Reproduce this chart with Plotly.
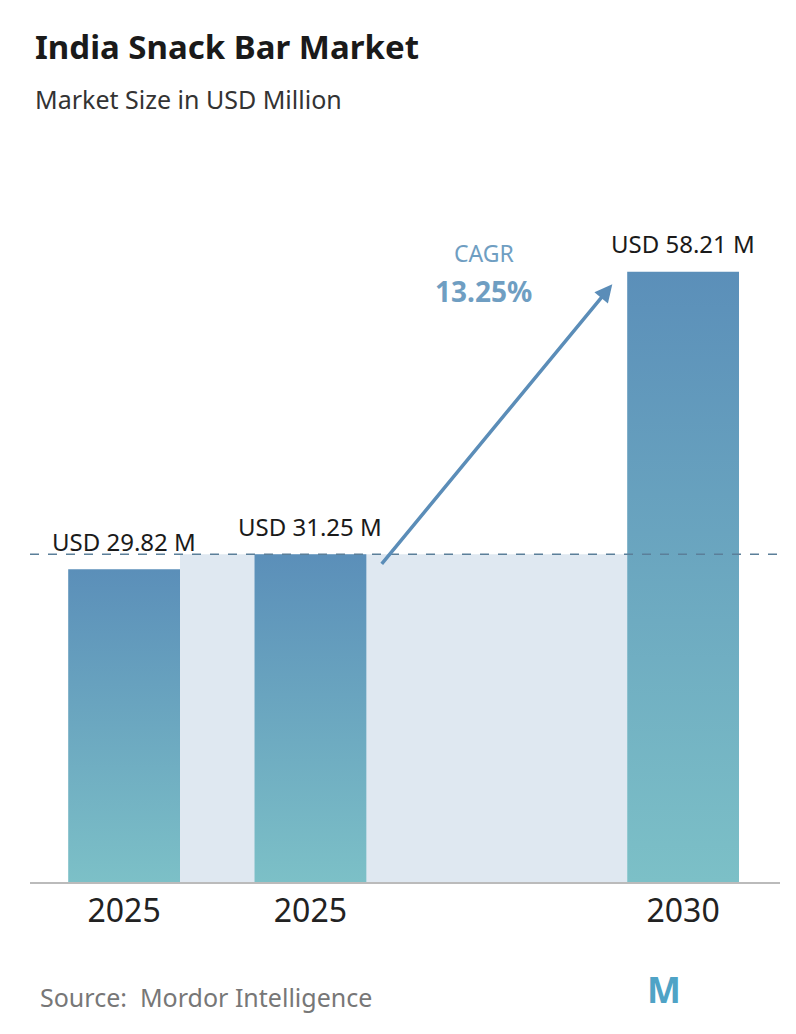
import plotly.graph_objects as go

years = ["2025", "2025", "2030"]
values = [29.82, 31.25, 58.21]
labels = ["USD 29.82 M", "USD 31.25 M", "USD 58.21 M"]
xpos = [0, 1, 3]
cagr = "13.25%"

W = 0.6
fig = go.Figure()
fig.add_shape(type="rect", x0=xpos[0]+W/2, x1=xpos[2]-W/2, y0=0, y1=values[1],
              fillcolor="#dfe8f1", line_width=0, layer="below")
for x, v in zip(xpos, values):
    fig.add_trace(go.Scatter(
        x=[x-W/2, x+W/2, x+W/2, x-W/2, x-W/2], y=[0, 0, v, v, 0],
        fill="toself", mode="lines", line=dict(width=0),
        fillgradient=dict(type="vertical", colorscale=[[0, "#7cc0c7"], [1, "#5b8fb9"]]),
        hoverinfo="skip", showlegend=False))
for x, v, t in zip(xpos, values, labels):
    fig.add_annotation(x=x, y=v, text=t, showarrow=False, yshift=28,
                       font=dict(size=24, color="#1a1a1a", family="Noto Sans"))
fig.add_shape(type="line", xref="paper", x0=0, x1=1, y0=values[1], y1=values[1],
              line=dict(color="#5b7f99", width=1.5, dash="dash"))
fig.add_annotation(x=2.62, y=57.0, ax=1.376, ay=30.2, axref="x", ayref="y",
                   xref="x", yref="y", text="", showarrow=True, arrowhead=2,
                   arrowsize=1, arrowwidth=3.5, arrowcolor="#5b8db8")
fig.add_annotation(x=1.93, y=60.0, text="CAGR", showarrow=False,
                   font=dict(size=23, color="#6f9ec2", family="Noto Sans"))
fig.add_annotation(x=1.93, y=56.4, text="<b>"+cagr+"</b>", showarrow=False,
                   font=dict(size=28, color="#6f9ec2", family="Noto Sans"))
fig.update_layout(
    width=780, height=1018, plot_bgcolor="white", paper_bgcolor="white",
    margin=dict(l=22, r=8, t=140, b=144),
    xaxis=dict(range=[-0.505, 3.52], tickvals=xpos, ticktext=years, showgrid=False,
               zeroline=False, showline=True, linecolor="#bbbbbb", linewidth=2,
               tickfont=dict(size=32, color="#222", family="Noto Sans"), ticks=""),
    yaxis=dict(range=[0, 70], visible=False),
    showlegend=False,
)
fig.add_annotation(xref="paper", yref="paper", x=0.004, y=1.172, xanchor="left",
                   text="<b>India Snack Bar Market</b>", showarrow=False,
                   font=dict(size=33, color="#1a1a1a", family="Noto Sans"))
fig.add_annotation(xref="paper", yref="paper", x=0.004, y=1.092, xanchor="left",
                   text="Market Size in USD Million", showarrow=False,
                   font=dict(size=25, color="#333", family="Noto Sans"))
fig.add_annotation(xref="paper", yref="paper", x=0.01, y=-0.183, xanchor="left",
                   text="Source:  Mordor Intelligence", showarrow=False,
                   font=dict(size=25, color="#777", family="Noto Sans"))
fig.add_annotation(xref="paper", yref="paper", x=0.82, y=-0.183, xanchor="left",
                   text="<b>M</b>", showarrow=False,
                   font=dict(size=36, color="#4fa3c6", family="Noto Sans"))
fig.write_html("out.html")
